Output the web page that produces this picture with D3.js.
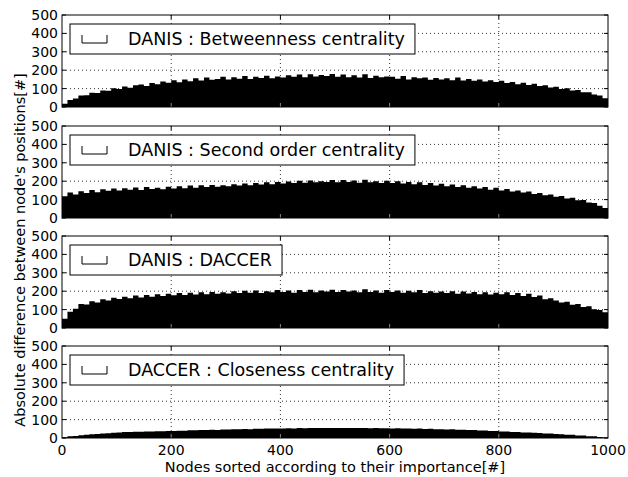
<!DOCTYPE html>
<html>
<head>
<meta charset="utf-8">
<script src="https://cdn.jsdelivr.net/npm/d3@7"></script>
<style>
  body { margin: 0; background: #fff; }
  text { font-family: "DejaVu Sans", sans-serif; fill: #000; }
</style>
</head>
<body>
<div id="chart"></div>
<script>
// each value covers a bin of 10 nodes (node 0-9, 10-19, ...)
const betweenness = [
  18, 38, 46, 62, 64, 78, 76, 90, 88, 102,
  98, 112, 104, 118, 122, 114, 130, 124, 138, 132,
  146, 134, 150, 140, 156, 144, 160, 148, 152, 164,
  150, 162, 154, 168, 152, 164, 158, 170, 156, 166,
  160, 172, 164, 176, 162, 178, 166, 174, 168, 180,
  164, 176, 162, 172, 160, 178, 158, 170, 162, 166,
  164, 154, 168, 150, 162, 156, 160, 148, 158, 150,
  156, 146, 160, 144, 152, 142, 150, 138, 146, 136,
  142, 130, 136, 124, 132, 120, 126, 114, 118, 106,
  110, 98, 102, 90, 92, 80, 80, 68, 62, 48
];
const secondOrder = [
  118, 138, 128, 146, 136, 152, 140, 156, 148, 160,
  150, 162, 154, 166, 152, 168, 158, 164, 156, 170,
  160, 172, 162, 176, 164, 178, 168, 180, 170, 178,
  172, 184, 176, 188, 178, 190, 182, 194, 184, 196,
  188, 198, 190, 202, 192, 204, 194, 200, 196, 206,
  194, 206, 196, 204, 192, 208, 194, 200, 190, 202,
  190, 200, 188, 196, 184, 194, 180, 190, 176, 186,
  172, 182, 168, 178, 164, 172, 160, 168, 154, 164,
  150, 158, 144, 150, 138, 144, 130, 136, 124, 128,
  116, 120, 106, 110, 96, 98, 84, 82, 66, 54
];
const daccer = [
  50, 88, 104, 130, 128, 146, 138, 156, 150, 164,
  158, 170, 162, 176, 166, 180, 170, 184, 174, 186,
  178, 190, 180, 192, 182, 194, 184, 196, 186, 194,
  188, 200, 190, 202, 192, 204, 190, 200, 194, 206,
  196, 204, 192, 206, 196, 208, 194, 204, 198, 208,
  196, 206, 198, 204, 194, 210, 196, 204, 192, 206,
  196, 204, 192, 202, 194, 206, 190, 200, 192, 198,
  190, 200, 186, 198, 188, 196, 184, 194, 182, 192,
  184, 194, 180, 190, 174, 186, 168, 176, 156, 162,
  150, 138, 142, 126, 130, 114, 118, 102, 98, 86
];
const closeness = [
  4, 9, 11, 15, 17, 21, 22, 25, 26, 29,
  30, 32, 32, 34, 34, 36, 35, 37, 37, 38,
  38, 40, 40, 42, 42, 43, 43, 45, 44, 46,
  46, 47, 47, 49, 48, 50, 50, 51, 51, 52,
  52, 53, 52, 54, 53, 55, 54, 55, 54, 55,
  54, 55, 54, 55, 54, 54, 53, 54, 53, 53,
  52, 53, 51, 52, 50, 51, 49, 50, 48, 48,
  46, 47, 45, 45, 43, 43, 41, 41, 38, 38,
  36, 36, 33, 33, 30, 30, 28, 27, 25, 24,
  22, 21, 18, 17, 14, 13, 10, 9, 6, 3
];

const panels = [
  {label: "DANIS : Betweenness centrality", values: betweenness},
  {label: "DANIS : Second order centrality", values: secondOrder},
  {label: "DANIS : DACCER", values: daccer},
  {label: "DACCER : Closeness centrality", values: closeness}
];
const binSize = 10;
const xTicks = [0, 200, 400, 600, 800, 1000];
const yTicks = [0, 100, 200, 300, 400, 500];

const W = 628, H = 477;
const left = 62, right = 608;
const panelTops = [15, 126, 236, 346];
const panelH = 92;

const svg = d3.select("#chart").append("svg")
  .attr("width", W).attr("height", H);

const x = d3.scaleLinear().domain([0, 1000]).range([left, right]);

panels.forEach(function(p, k) {
  const top = panelTops[k];
  const y = d3.scaleLinear().domain([0, 500]).range([top + panelH, top]);
  const g = svg.append("g");

  // grid (dotted)
  g.selectAll(".vgrid").data(xTicks.slice(1, -1)).enter().append("line")
    .attr("x1", d => x(d)).attr("x2", d => x(d))
    .attr("y1", top).attr("y2", top + panelH)
    .attr("stroke", "#000").attr("stroke-width", 0.8)
    .attr("stroke-dasharray", "1,3");
  g.selectAll(".hgrid").data(yTicks.slice(1, -1)).enter().append("line")
    .attr("x1", left).attr("x2", right)
    .attr("y1", d => y(d)).attr("y2", d => y(d))
    .attr("stroke", "#000").attr("stroke-width", 0.8)
    .attr("stroke-dasharray", "1,3");

  // bars: drawn as one outline so neighbouring bars leave no seams
  let d = "M" + x(0) + "," + y(0);
  p.values.forEach(function(v, i) {
    d += "V" + y(v) + "H" + x((i + 1) * binSize);
  });
  d += "V" + y(0) + "Z";
  g.append("path").attr("d", d).attr("fill", "#000");

  // ticks, inward on all sides
  yTicks.forEach(function(t) {
    g.append("line").attr("x1", left).attr("x2", left + 4)
      .attr("y1", y(t)).attr("y2", y(t)).attr("stroke", "#000");
    g.append("line").attr("x1", right - 4).attr("x2", right)
      .attr("y1", y(t)).attr("y2", y(t)).attr("stroke", "#000");
    g.append("text").attr("x", left - 4).attr("y", y(t))
      .attr("text-anchor", "end").attr("dy", "0.36em")
      .style("font-size", "14px").text(t);
  });
  xTicks.slice(1, -1).forEach(function(t) {
    g.append("line").attr("x1", x(t)).attr("x2", x(t))
      .attr("y1", top).attr("y2", top + 4).attr("stroke", "#000");
    g.append("line").attr("x1", x(t)).attr("x2", x(t))
      .attr("y1", top + panelH - 4).attr("y2", top + panelH)
      .attr("stroke", "#888");
  });

  // frame
  g.append("rect").attr("x", left).attr("y", top)
    .attr("width", right - left).attr("height", panelH)
    .attr("fill", "none").attr("stroke", "#000").attr("stroke-width", 1);

  // legend
  const lg = g.append("g");
  const box = lg.append("rect")
    .attr("x", 70).attr("y", top + 9).attr("height", 30)
    .attr("fill", "#fff").attr("stroke", "#000").attr("stroke-width", 1);
  lg.append("path")
    .attr("d", `M82,${top + 20}V${top + 28}H107V${top + 20}`)
    .attr("fill", "none").attr("stroke", "#000").attr("stroke-width", 1);
  const txt = lg.append("text").attr("x", 128).attr("y", top + 30)
    .style("font-size", "17.5px").text(p.label);
  box.attr("width", 128 + txt.node().getComputedTextLength() + 10 - 70);

  if (k === panels.length - 1) {
    xTicks.forEach(function(t) {
      g.append("text").attr("x", x(t)).attr("y", top + panelH + 17)
        .attr("text-anchor", "middle").style("font-size", "14px").text(t);
    });
  }
});

svg.append("text")
  .attr("transform", "translate(25,250) rotate(-90)")
  .attr("text-anchor", "middle").style("font-size", "14.5px")
  .text("Absolute difference between node's positions[#]");

svg.append("text")
  .attr("x", 335).attr("y", 472)
  .attr("text-anchor", "middle").style("font-size", "14.5px")
  .text("Nodes sorted according to their importance[#]");
</script>
</body>
</html>
